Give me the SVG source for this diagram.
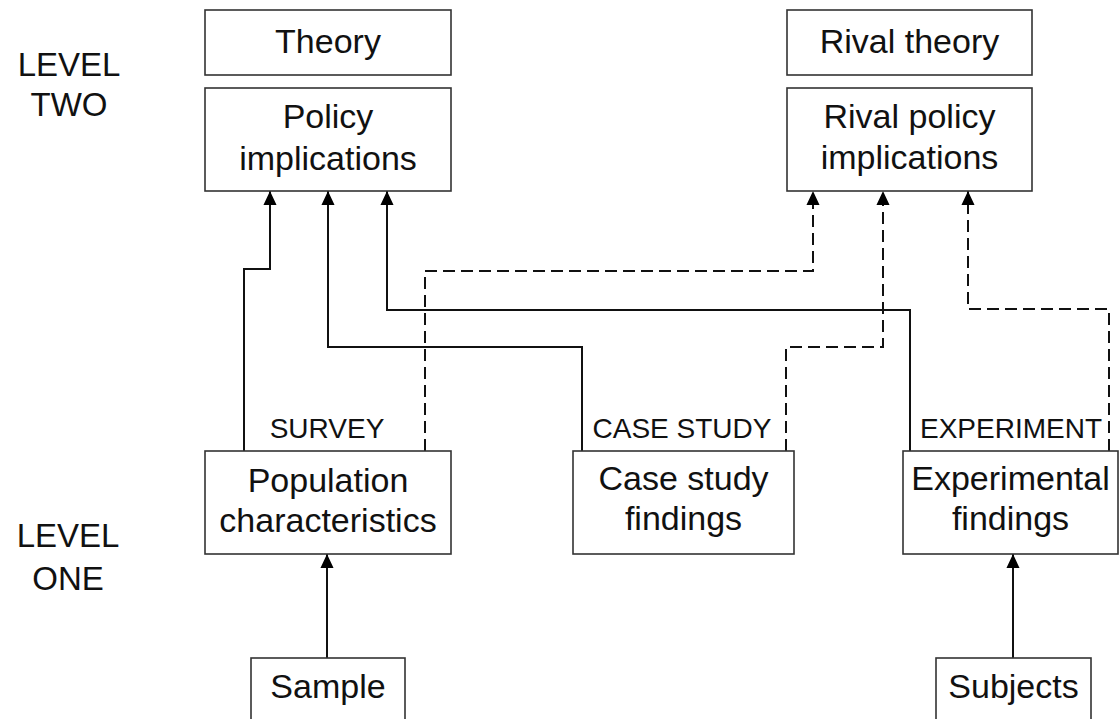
<svg xmlns="http://www.w3.org/2000/svg" width="1119" height="719" viewBox="0 0 1119 719">
  <style>
    .box { fill: #ffffff; stroke: #333333; stroke-width: 1.6; }
    .t { font-family: "Liberation Sans", Arial, sans-serif; font-size: 34px; fill: #111111; text-anchor: middle; }
    .lvl { font-family: "Liberation Sans", Arial, sans-serif; font-size: 33px; fill: #111111; text-anchor: middle; }
    .tag { font-family: "Liberation Sans", Arial, sans-serif; font-size: 28px; fill: #111111; text-anchor: middle; }
    .solid { fill: none; stroke: #111111; stroke-width: 2; marker-end: url(#head); }
    .dash { fill: none; stroke: #111111; stroke-width: 2; stroke-dasharray: 12 6; marker-end: url(#head); }
  </style>
  <defs>
    <marker id="head" viewBox="0 0 14 15" refX="15" refY="7" markerWidth="15" markerHeight="14" markerUnits="userSpaceOnUse" orient="auto">
      <path d="M0,0 L15,7 L0,14 z" fill="#000000"/>
    </marker>
  </defs>
  <rect width="1119" height="719" fill="#ffffff"/>

  <!-- level labels -->
  <g id="level-two">
    <text class="lvl" x="69" y="76">LEVEL</text>
    <text class="lvl" x="69" y="116">TWO</text>
  </g>
  <g id="level-one">
    <text class="lvl" x="68" y="547">LEVEL</text>
    <text class="lvl" x="68" y="590">ONE</text>
  </g>

  <!-- connectors -->
  <g id="connectors">
    <!-- survey -> policy implications -->
    <path class="solid" d="M244,451 V269 H270 V191"/>
    <!-- case study -> policy implications -->
    <path class="solid" d="M582,451 V347 H328 V191"/>
    <!-- experiment -> policy implications -->
    <path class="solid" d="M910,451 V310 H387 V191"/>
    <!-- survey -> rival policy implications -->
    <path class="dash" d="M425,451 V271 H813 V191"/>
    <!-- case study -> rival policy implications -->
    <path class="dash" d="M786,451 V347 H883 V191"/>
    <!-- experiment -> rival policy implications -->
    <path class="dash" d="M1109,451 V309 H968 V191"/>
    <!-- sample -> population characteristics -->
    <path class="solid" d="M327,658 V554"/>
    <!-- subjects -> experimental findings -->
    <path class="solid" d="M1013,658 V554"/>
  </g>

  <!-- method tags -->
  <g id="tag-survey"><text class="tag" x="327" y="438">SURVEY</text></g>
  <g id="tag-case-study"><text class="tag" x="682" y="438">CASE STUDY</text></g>
  <g id="tag-experiment"><text class="tag" x="1011" y="438">EXPERIMENT</text></g>

  <!-- level two nodes -->
  <g id="theory">
    <rect class="box" x="205" y="10" width="246" height="65"/>
    <text class="t" x="328" y="53">Theory</text>
  </g>
  <g id="policy-implications">
    <rect class="box" x="205" y="88" width="246" height="103"/>
    <text class="t" x="328" y="128">Policy</text>
    <text class="t" x="328" y="170">implications</text>
  </g>
  <g id="rival-theory">
    <rect class="box" x="787" y="10" width="245" height="65"/>
    <text class="t" x="909.5" y="53">Rival theory</text>
  </g>
  <g id="rival-policy-implications">
    <rect class="box" x="787" y="88" width="245" height="103"/>
    <text class="t" x="909.5" y="128">Rival policy</text>
    <text class="t" x="909.5" y="169">implications</text>
  </g>

  <!-- level one nodes -->
  <g id="population-characteristics">
    <rect class="box" x="205" y="451" width="246" height="103"/>
    <text class="t" x="328" y="492">Population</text>
    <text class="t" x="328" y="532">characteristics</text>
  </g>
  <g id="case-study-findings">
    <rect class="box" x="573" y="451" width="221" height="103"/>
    <text class="t" x="683.5" y="490">Case study</text>
    <text class="t" x="683.5" y="530">findings</text>
  </g>
  <g id="experimental-findings">
    <rect class="box" x="903" y="451" width="215" height="103"/>
    <text class="t" x="1010.5" y="490">Experimental</text>
    <text class="t" x="1010.5" y="530">findings</text>
  </g>
  <g id="sample">
    <rect class="box" x="251" y="658" width="154" height="70"/>
    <text class="t" x="328" y="698">Sample</text>
  </g>
  <g id="subjects">
    <rect class="box" x="936" y="658" width="155" height="70"/>
    <text class="t" x="1013.5" y="698">Subjects</text>
  </g>
</svg>
